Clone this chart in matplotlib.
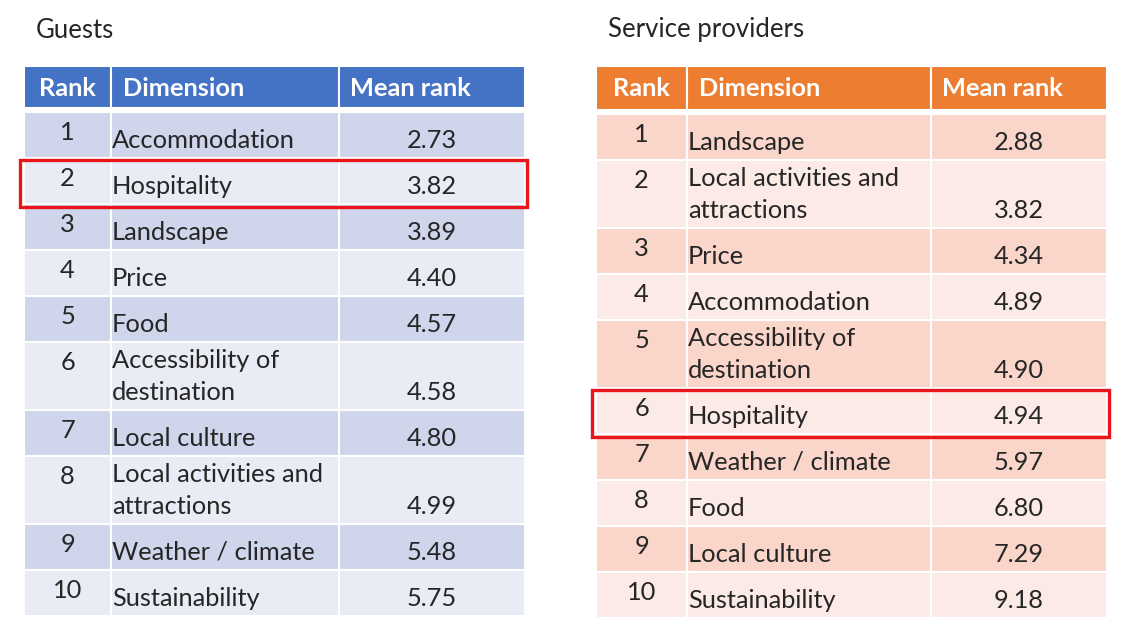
import matplotlib
matplotlib.use('Agg')
import matplotlib.pyplot as plt
from matplotlib.patches import Rectangle

plt.rcParams['font.family'] = ['Lato', 'DejaVu Sans']

# data
header = ["Rank", "Dimension", "Mean rank"]

guest_ranks = [1, 2, 3, 4, 5, 6, 7, 8, 9, 10]
guest_dims = ["Accommodation", "Hospitality", "Landscape", "Price", "Food",
              "Accessibility of\ndestination", "Local culture",
              "Local activities and\nattractions", "Weather / climate",
              "Sustainability"]
guest_means = [2.73, 3.82, 3.89, 4.40, 4.57, 4.58, 4.80, 4.99, 5.48, 5.75]
guest_highlight = 2

provider_ranks = [1, 2, 3, 4, 5, 6, 7, 8, 9, 10]
provider_dims = ["Landscape", "Local activities and\nattractions", "Price",
                 "Accommodation", "Accessibility of\ndestination", "Hospitality",
                 "Weather / climate", "Food", "Local culture", "Sustainability"]
provider_means = [2.88, 3.82, 4.34, 4.89, 4.90, 4.94, 5.97, 6.80, 7.29, 9.18]
provider_highlight = 6

W, H = 1125, 629
fig = plt.figure(figsize=(W / 100, H / 100), dpi=100)
ax = fig.add_axes([0, 0, 1, 1])
ax.set_xlim(0, W)
ax.set_ylim(H, 0)
ax.axis('off')

FS = 18.3
ROW1 = 46
LINE = 32
TXT = '#262626'


def draw_table(x0, cols, y_head, head_h, title, ranks, dims, means, hl,
               head_col, dark, light):
    ax.text(x0 + 12, 30, title, fontsize=18.5, va='center', ha='left',
            color=TXT)
    edges = [x0] + list(cols)
    # header
    for i in range(3):
        ax.add_patch(Rectangle((edges[i], y_head), edges[i + 1] - edges[i],
                               head_h, facecolor=head_col, edgecolor='white',
                               lw=1.5))
    ax.text((edges[0] + edges[1]) / 2, y_head + head_h / 2 + 1, header[0],
            ha='center', va='center', color='white', fontsize=FS,
            fontweight='bold')
    ax.text(edges[1] + 12, y_head + head_h / 2 + 1, header[1], ha='left',
            va='center', color='white', fontsize=FS, fontweight='bold')
    ax.text(edges[2] + 11, y_head + head_h / 2 + 1, header[2], ha='left',
            va='center', color='white', fontsize=FS, fontweight='bold')

    y = y_head + head_h + 4
    for k, (r, d, m) in enumerate(zip(ranks, dims, means)):
        lines = d.split("\n")
        h = ROW1 + (LINE - 10) * (len(lines) - 1)
        fc = dark if k % 2 == 0 else light
        for i in range(3):
            ax.add_patch(Rectangle((edges[i], y), edges[i + 1] - edges[i], h,
                                   facecolor=fc, edgecolor='white', lw=1.5))
        bottom_c = y + h - 18
        ax.text((edges[0] + edges[1]) / 2, y + 21, str(r), ha='center',
                va='center', fontsize=FS, color=TXT)
        for j, ln in enumerate(lines):
            ax.text(edges[1] + 1, bottom_c - LINE * (len(lines) - 1 - j), ln,
                    ha='left', va='center', fontsize=FS, color=TXT)
        ax.text((edges[2] + edges[3]) / 2, bottom_c, f"{m:.2f}", ha='center',
                va='center', fontsize=FS, color=TXT)
        if r == hl:
            ax.add_patch(Rectangle((x0 - 4, y + 2), edges[3] - x0 + 6, h + 1,
                                   facecolor='none', edgecolor='#e8161b',
                                   lw=2.4, zorder=5))
        y += h


draw_table(24, [111, 339, 525], 66, 42, "Guests", guest_ranks, guest_dims,
           guest_means, guest_highlight, '#4472C4', '#CFD5EA', '#E9EBF5')
draw_table(596, [687, 931, 1107], 66, 44, "Service providers", provider_ranks,
           provider_dims, provider_means, provider_highlight, '#ED7D31',
           '#F9D5CA', '#FCEAE6')

fig.savefig("out.png", dpi=100, facecolor='white')
